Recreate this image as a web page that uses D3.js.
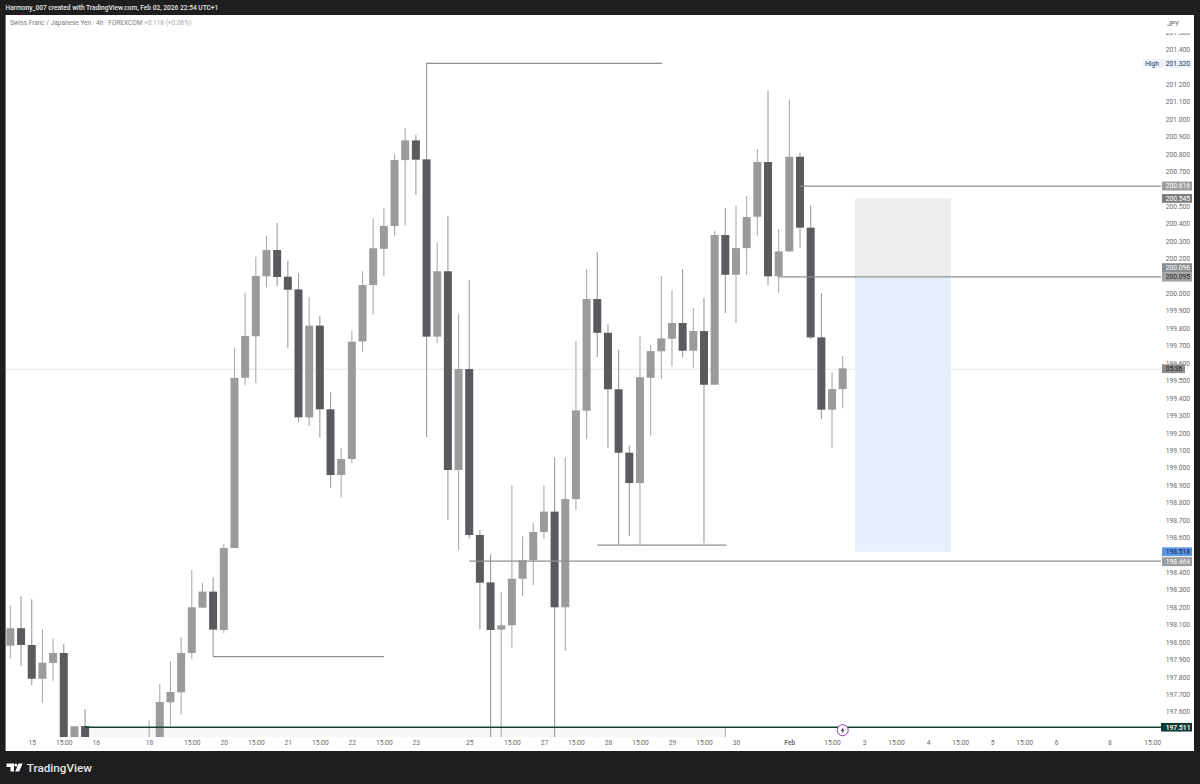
<!DOCTYPE html>
<html><head><meta charset="utf-8">
<script src="https://cdn.jsdelivr.net/npm/d3@7"></script>
<style>html,body{margin:0;padding:0;background:#1e1e1e}svg{display:block}text{font-family:Roboto,"Noto Sans",sans-serif}</style>
</head><body><svg id="c" width="1200" height="784"></svg>
<script>
const N = null;
const open = [
197.979,198.079,197.983,197.789,197.880,197.937,197.400,197.518,N,N,
N,N,N,197.400,197.430,197.654,197.711,197.937,198.197,198.289,
198.069,198.539,199.516,199.754,200.098,200.249,200.096,200.023,199.289,199.815,
199.335,198.958,199.050,199.725,200.048,200.256,200.387,200.765,200.878,200.769,
199.752,200.127,198.987,199.566,198.614,198.342,198.071,198.096,198.363,198.469,
198.631,198.748,198.199,198.820,199.327,199.968,199.774,199.450,199.086,198.912,
199.516,199.668,199.740,199.830,199.671,199.784,199.476,200.335,200.107,200.260,
200.440,200.754,200.098,200.241,200.784,200.377,199.748,199.333,199.451];
const high = [
198.208,198.264,198.245,198.073,198.021,197.989,197.516,197.616,N,N,
N,N,N,197.551,197.759,197.891,198.027,198.413,198.340,198.371,
198.562,199.685,200.004,200.210,200.329,200.404,200.186,200.115,199.978,199.870,
199.433,199.111,199.784,200.127,200.431,200.488,200.801,200.949,200.909,201.322,
200.293,200.442,199.882,200.075,198.643,198.503,198.287,198.897,198.606,198.681,
198.897,199.060,199.060,199.727,200.138,200.236,199.823,199.675,199.126,199.756,
199.706,200.100,200.019,200.140,199.916,199.975,200.360,200.490,200.503,200.559,
200.828,201.163,200.369,201.113,200.807,200.505,200.002,199.547,199.641];
const low = [
197.906,197.862,197.753,197.652,197.778,197.350,197.380,197.380,N,N,
N,N,N,197.350,197.400,197.520,197.585,197.902,198.197,197.916,
198.052,198.539,199.473,199.484,200.035,200.042,199.685,199.260,199.239,199.174,
198.885,198.828,199.025,199.665,199.880,200.100,200.331,200.388,200.566,199.176,
199.714,198.700,198.526,198.595,198.073,197.350,197.350,197.967,198.264,198.327,
198.591,197.350,197.948,198.757,199.163,199.635,199.115,198.556,198.608,198.556,
199.184,199.507,199.579,199.631,199.572,198.566,199.476,199.887,199.832,200.104,
200.331,200.046,200.004,200.241,200.264,199.737,199.278,199.115,199.341];
const close = [
198.079,197.983,197.789,197.881,197.937,197.400,197.516,197.420,N,N,
N,N,N,197.430,197.656,197.713,197.937,198.199,198.289,198.071,
198.539,199.515,199.756,200.100,200.249,200.094,200.021,199.289,199.815,199.335,
198.958,199.050,199.723,200.048,200.259,200.387,200.765,200.878,200.767,199.752,
200.127,198.987,199.566,198.614,198.340,198.069,198.096,198.363,198.469,198.631,
198.748,198.199,198.820,199.329,199.968,199.774,199.450,199.086,198.912,199.519,
199.669,199.742,199.830,199.671,199.784,199.476,200.335,200.107,200.260,200.438,
200.754,200.098,200.241,200.784,200.377,199.748,199.333,199.451,199.570];

const timeTickIndex = [2,5,8,13,17,20,23,26,29,32,35,38,43,47,50,53,56,59,62,65,68,73,77,80,83,86,89,92,95,98,103,107];
const timeTickLabel = ["15","15:00","16","18","15:00","20","15:00","21","15:00","22","15:00","23","25","15:00","27","15:00","28","15:00","29","15:00","30","Feb","15:00","3","15:00","4","15:00","5","15:00","6","8","15:00"];
// 201.300, 200.600, 200.100, 198.500 and 197.500 sit under price tags in the reference
const priceTicks = [197.6,197.7,197.8,197.9,198.0,198.1,198.2,198.3,198.4,198.6,198.7,198.8,198.9,199.0,199.1,199.2,199.3,199.4,199.5,199.6,199.7,199.8,199.9,200.0,200.2,200.3,200.4,200.5,200.7,200.8,200.9,201.0,201.1,201.2,201.4,201.5];

// horizontal drawings: price, start bar, end bar (null = to the price scale)
const levelPrice = [201.320,197.916,198.556,198.464,200.616,200.095];
const levelFrom  = [39,19,55,43,74,72];
const levelTo    = [61.1,35,67.1,N,N,N];

const positionLeft = 79.15, positionRight = 88.15;
const positionEntry = 200.095, positionTop = 200.545, positionStop = 198.518;
const lastPrice = 199.568, basePrice = 197.511;

const svg = d3.select("#c");
const x = d3.scaleLinear().domain([0,78]).range([10.4,842.7]);
const y = d3.scaleLinear().domain([198,201.4]).range([642,49.4]);
const F = 5.6, R = 1194, T = 15, B = 751, PR = 1161, PB = 737;
const AXF = 6.7;

svg.append("rect").attr("width",1200).attr("height",784).attr("fill","#1e1e1e");
svg.append("rect").attr("x",F).attr("y",T).attr("width",R-F).attr("height",B-T).attr("fill","#fff");
const defs = svg.append("defs");
defs.append("clipPath").attr("id","plot").append("rect").attr("x",F).attr("y",T).attr("width",PR-F).attr("height",PB-T);

// header
svg.append("text").attr("x",5.5).attr("y",9.7).attr("font-size",6.6).attr("font-weight",500).attr("fill","#e8e8e8")
  .text("Harmony_007 created with TradingView.com, Feb 02, 2026 22:54 UTC+1");
const sub = svg.append("text").attr("x",10).attr("y",25).attr("font-size",6.5).attr("fill","#7c7c7c").text("Swiss Franc / Japanese Yen · 4h · FOREXCOM ");
sub.append("tspan").attr("fill","#a8a8a8").text(" +0.118 (+0.06%)");

const plot = svg.append("g").attr("clip-path","url(#plot)");
// lower band
plot.append("rect").attr("x",x(7)).attr("y",y(basePrice)).attr("width",x(67)-x(7)).attr("height",PB-y(basePrice)).attr("fill","#f7f7f7");
plot.append("line").attr("x1",x(67)).attr("x2",x(67)).attr("y1",y(basePrice)).attr("y2",PB).attr("stroke","#aaa");

// last price line
plot.append("line").attr("x1",F).attr("x2",PR).attr("y1",y(lastPrice)+.5).attr("y2",y(lastPrice)+.5)
  .attr("stroke","#e6e6e6").attr("stroke-width",1);

// position tool
plot.append("rect").attr("x",x(positionLeft)).attr("width",x(positionRight)-x(positionLeft))
  .attr("y",y(positionTop)).attr("height",y(positionEntry)-y(positionTop)).attr("fill","#ececec");
plot.append("rect").attr("x",x(positionLeft)).attr("width",x(positionRight)-x(positionLeft))
  .attr("y",y(positionEntry)).attr("height",y(positionStop)-y(positionEntry)).attr("fill","#e5effd");

// candles
const candles = open.map((o,i)=>({i,o,h:high[i],l:low[i],c:close[i]})).filter(d=>d.o!==null);
const g = plot.selectAll("g.k").data(candles).join("g").attr("class","k");
g.append("line").attr("x1",d=>x(d.i)).attr("x2",d=>x(d.i)).attr("y1",d=>y(d.h)).attr("y2",d=>y(d.l))
  .attr("stroke",d=>d.c<d.o?"#9c9c9c":"#ababab").attr("stroke-width",1.1);
g.append("rect").attr("x",d=>x(d.i)-4).attr("width",8)
  .attr("y",d=>y(Math.max(d.o,d.c))).attr("height",d=>Math.max(1,Math.abs(y(d.o)-y(d.c))))
  .attr("fill",d=>d.c<d.o?"#5a5b5e":"#9a9b9d");

// drawn levels
plot.selectAll("line.lv").data(levelPrice).join("line").attr("class","lv")
  .attr("x1",(d,i)=>x(levelFrom[i])).attr("x2",(d,i)=>levelTo[i]===null?PR:x(levelTo[i]))
  .attr("y1",d=>y(d)).attr("y2",d=>y(d)).attr("stroke","#8f8f8f").attr("stroke-width",1.2);

// base price line
plot.append("line").attr("x1",x(7)).attr("x2",PR).attr("y1",y(basePrice)).attr("y2",y(basePrice))
  .attr("stroke","#14413a").attr("stroke-width",1.3);

// flash marker
const mx = x(78), my = y(basePrice)+3;
plot.append("circle").attr("cx",mx).attr("cy",my).attr("r",5.5).attr("fill","#fff").attr("stroke","#8a3fa8").attr("stroke-width",1);
plot.append("path").attr("d",`M${mx+1},${my-3.5}L${mx-2},${my+.5}H${mx-.2}L${mx-1},${my+3.5}L${mx+2},${my-.5}H${mx+.2}Z`).attr("fill","#4a2a5c");

// price axis
const ya = d3.axisRight(y).tickValues(priceTicks).tickFormat(d3.format(".3f")).tickSize(0).tickPadding(0);
const yG = svg.append("g").attr("transform",`translate(${1165.7},0)`).call(ya);
yG.select(".domain").remove();
yG.selectAll("text").attr("font-size",AXF).attr("fill","#6a6a6a").attr("x",0).attr("dy","0.32em");

// time axis
const xa = d3.axisBottom(x).tickValues(timeTickIndex).tickFormat((d,i)=>timeTickLabel[i]).tickSize(0).tickPadding(0);
const xG = svg.append("g").attr("transform",`translate(0,${740.2})`).call(xa);
xG.select(".domain").remove();
xG.selectAll("text").attr("font-size",AXF).attr("fill","#6a6a6a").attr("y",0)
  .attr("font-weight",(d,i)=>timeTickLabel[i]==="Feb"?600:400);

// JPY box
svg.append("rect").attr("x",1161).attr("y",T).attr("width",R-1161).attr("height",18).attr("fill","#fff");
svg.append("text").attr("x",1173).attr("y",26).attr("text-anchor","middle").attr("font-size",6.5).attr("fill","#555").text("JPY");

// price labels
const tag = (price,h,bg,fg,label,left,right,weight) => {
  const cy = y(price);
  svg.append("rect").attr("x",left).attr("y",cy-h/2).attr("width",right-left).attr("height",h).attr("fill",bg);
  svg.append("text").attr("x",1165.7).attr("y",cy+.2).attr("dy","0.32em").attr("text-anchor","start")
    .attr("font-size",AXF).attr("font-weight",weight||400).attr("fill",fg).text(label);
};
tag(201.32,8.8,"#edf2fb","#27335a","201.320",1143,1192);
svg.append("text").attr("x",1152).attr("y",63.5).attr("dy","0.32em").attr("text-anchor","middle").attr("font-size",6.6).attr("fill","#27335a").text("High");
tag(200.616,9,"#9c9e9f","#fff","200.616",1162,1192);
tag(200.545,8.8,"#7d7d7d","#fff","200.545",1162,1192);
tag(200.148,8.8,"#8b8e90","#fff","200.096",1162,1192);
tag(200.095,9.4,"#a2a2a2","#222","200.095",1162,1192);
tag(lastPrice,8.8,"#8e8e8e","#222","05:36",1162,1185);
tag(198.518,8.8,"#5f96e6","#10243f","198.518",1162,1192);
tag(198.461,9,"#9c9e9f","#fff","198.464",1162,1192);
tag(197.511,8.6,"#0c3b34","#fff","197.511",1161,1192,600);

// brand
const brand = svg.append("g").attr("fill","#fff");
brand.append("path").attr("d","M6.5,763.5H14V771.5H10.5V767H6.5Z");
brand.append("circle").attr("cx",15.8).attr("cy",765).attr("r",1.5);
brand.append("path").attr("d","M18.5,763.5H22.6L19.2,771.5H15.2Z");
svg.append("text").attr("x",26.8).attr("y",772).attr("font-size",11.7).attr("font-weight",500).attr("fill","#e6e6e6").text("TradingView");
</script></body></html>
